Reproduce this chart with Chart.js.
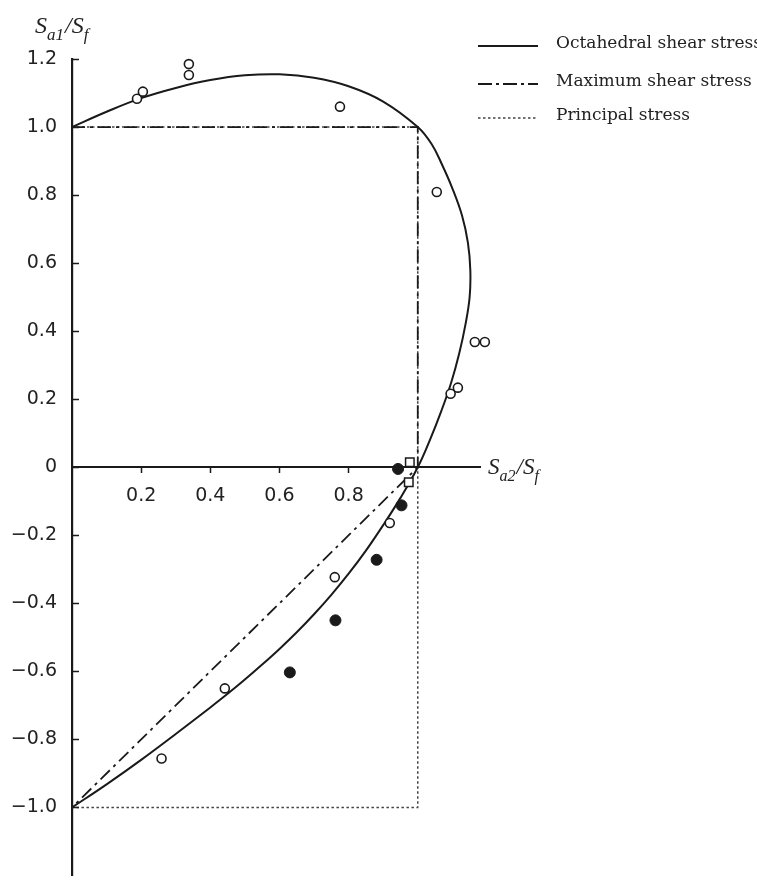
<!DOCTYPE html>
<html lang="en">
<head>
<meta charset="UTF-8" />
<title>Sa1/Sf vs Sa2/Sf</title>
<style>
  html, body { margin: 0; padding: 0; background: #fff; }
  #wrap { width: 757px; height: 883px; }
</style>
</head>
<body>
<div id="wrap"><canvas id="chart"></canvas></div>

<script src="https://cdn.jsdelivr.net/npm/chart.js"></script>
<script>
// legend names
const seriesNames = ["Octahedral shear stress", "Maximum shear stress", "Principal stress"];

// tick labels
const xTicks = [0.2, 0.4, 0.6, 0.8];
const yTicks = [-1.0, -0.8, -0.6, -0.4, -0.2, 0, 0.2, 0.4, 0.6, 0.8, 1.0, 1.2];

// octahedral shear stress curve (x = Sa2/Sf, y = Sa1/Sf)
const octX = [0, 0.1, 0.2, 0.3, 0.4, 0.5, 0.6, 0.7, 0.8, 0.9, 1.0,
              1.04, 1.07, 1.1, 1.128, 1.145, 1.152, 1.15, 1.138, 1.12, 1.097, 1.068, 1.035, 1.0,
              0.95, 0.9, 0.85, 0.8, 0.75, 0.7, 0.65, 0.6, 0.55, 0.5, 0.45, 0.4, 0.3, 0.2, 0.1, 0];
const octY = [1.0, 1.045, 1.085, 1.115, 1.138, 1.152, 1.155, 1.145, 1.12, 1.075, 1.0,
              0.95, 0.89, 0.82, 0.74, 0.66, 0.58, 0.5, 0.42, 0.335, 0.25, 0.165, 0.08, 0,
              -0.09, -0.17, -0.245, -0.313, -0.375, -0.432, -0.485, -0.534, -0.58, -0.624, -0.666, -0.706, -0.784, -0.86, -0.932, -1.0];

// maximum shear stress
const treX = [0, 1, 1, 0];
const treY = [1, 1, 0, -1];

// principal stress
const prX = [0, 1, 1, 0];
const prY = [1, 1, -1, -1];

// test points
const openX = [0.188, 0.205, 0.338, 0.338, 0.775, 1.055, 1.165, 1.194, 1.095, 1.116, 0.919, 0.76, 0.442, 0.259];
const openY = [1.083, 1.104, 1.185, 1.153, 1.06, 0.809, 0.368, 0.368, 0.216, 0.234, -0.164, -0.323, -0.65, -0.856];
const fillX = [0.943, 0.953, 0.881, 0.762, 0.630];
const fillY = [-0.005, -0.112, -0.272, -0.45, -0.603];
const sqX = [0.977, 0.974];
const sqY = [0.015, -0.044];

const ink = "#1a1a1a";

function pts(xs, ys) {
  return xs.map((x, i) => ({ x: x, y: ys[i] }));
}

function minusSign(v) {
  if (v === 0) return "0";
  return v.toFixed(1).replace("-", "\u2212");
}

// draws S_xx/S_f style text
function drawSubText(ctx, x, y, parts, size) {
  ctx.save();
  ctx.fillStyle = "#222";
  ctx.textBaseline = "alphabetic";
  ctx.textAlign = "left";
  parts.forEach((p) => {
    const sub = p[1];
    ctx.font = "italic " + (sub ? Math.round(size * 0.7) : size) + "px 'Liberation Serif', serif";
    ctx.fillText(p[0], x, y + (sub ? size * 0.28 : 0));
    x += ctx.measureText(p[0]).width + (sub ? 1 : 0);
  });
  ctx.restore();
}

const extras = {
  id: "extras",
  afterDraw(chart) {
    const ctx = chart.ctx;
    const ys = chart.scales.y;
    const left = chart.chartArea.left;

    // y tick marks, pointing inwards
    ctx.save();
    ctx.strokeStyle = ink;
    ctx.lineWidth = 1.5;
    ys.ticks.forEach((t) => {
      const py = Math.round(ys.getPixelForValue(t.value)) + 0.5;
      ctx.beginPath();
      ctx.moveTo(left, py);
      ctx.lineTo(left + 7, py);
      ctx.stroke();
    });
    ctx.restore();

    // axis titles
    drawSubText(ctx, 35, 33, [["S", 0], ["a1", 1], ["/S", 0], ["f", 1]], 24);
    drawSubText(ctx, chart.chartArea.right + 8, ys.getPixelForValue(0) + 7, [["S", 0], ["a2", 1], ["/S", 0], ["f", 1]], 23);

    // legend
    const rows = [46, 84, 118];
    seriesNames.forEach((name, i) => {
      const ds = chart.data.datasets.find((d) => d.label === name);
      ctx.save();
      ctx.strokeStyle = ds.borderColor;
      ctx.lineWidth = ds.borderWidth;
      ctx.setLineDash(ds.legendDash || ds.borderDash || []);
      ctx.beginPath();
      ctx.moveTo(478, rows[i]);
      ctx.lineTo(538, rows[i]);
      ctx.stroke();
      ctx.restore();
      ctx.save();
      ctx.fillStyle = "#222";
      ctx.font = "17px 'DejaVu Serif', serif";
      ctx.textBaseline = "middle";
      ctx.fillText(name, 556, rows[i] - 2);
      ctx.restore();
    });
  }
};

new Chart(document.getElementById("chart"), {
  type: "scatter",
  data: {
    datasets: [
      {
        label: "open",
        data: pts(openX, openY),
        pointStyle: "circle",
        pointRadius: 4.5,
        pointBackgroundColor: "#fff",
        pointBorderColor: ink,
        pointBorderWidth: 1.6,
        clip: false
      },
      {
        label: "filled",
        data: pts(fillX, fillY),
        pointStyle: "circle",
        pointRadius: 5.5,
        pointBackgroundColor: ink,
        pointBorderColor: ink,
        pointBorderWidth: 1,
        clip: false
      },
      {
        label: "square",
        data: pts(sqX, sqY),
        pointStyle: "rect",
        pointRadius: 6,
        pointBackgroundColor: "#fff",
        pointBorderColor: ink,
        pointBorderWidth: 1.5,
        clip: false
      },
      {
        label: seriesNames[0],
        data: pts(octX, octY),
        showLine: true,
        borderColor: ink,
        borderWidth: 2,
        tension: 0.4,
        pointRadius: 0
      },
      {
        label: seriesNames[1],
        data: pts(treX, treY),
        showLine: true,
        borderColor: ink,
        borderWidth: 1.8,
        borderDash: [13, 5, 3, 5],
        legendDash: [14, 4, 3, 4],
        pointRadius: 0
      },
      {
        label: seriesNames[2],
        data: pts(prX, prY),
        showLine: true,
        borderColor: "#444",
        borderWidth: 1.5,
        borderDash: [2.5, 2.5],
        pointRadius: 0
      }
    ]
  },
  options: {
    responsive: true,
    maintainAspectRatio: false,
    animation: false,
    events: [],
    layout: { padding: { left: 0, top: 59, right: 277, bottom: 2 } },
    plugins: {
      legend: { display: false },
      tooltip: { enabled: false }
    },
    scales: {
      x: {
        type: "linear",
        position: { y: 0 },
        min: 0,
        max: 1.18,
        afterBuildTicks: (s) => { s.ticks = xTicks.map((v) => ({ value: v })); },
        afterFit: (s) => { s.paddingLeft = 0; s.paddingRight = 0; },
        grid: { drawOnChartArea: false, drawTicks: true, tickLength: 5, tickWidth: 1.5, tickColor: ink },
        border: { display: true, color: ink, width: 2 },
        ticks: {
          padding: 12,
          color: "#222",
          font: { family: "'DejaVu Sans', sans-serif", size: 19 },
          callback: (v) => v.toFixed(1)
        }
      },
      y: {
        type: "linear",
        position: "left",
        min: -1.2,
        max: 1.2,
        afterBuildTicks: (s) => { s.ticks = yTicks.map((v) => ({ value: v })); },
        afterFit: (s) => { s.width = 72; s.paddingTop = 0; s.paddingBottom = 0; },
        grid: { drawOnChartArea: false, drawTicks: false },
        border: { display: true, color: ink, width: 2.2 },
        ticks: {
          padding: 15,
          color: "#222",
          font: { family: "'DejaVu Sans', sans-serif", size: 19 },
          callback: (v) => minusSign(v)
        }
      }
    }
  },
  plugins: [extras]
});
</script>
</body>
</html>
